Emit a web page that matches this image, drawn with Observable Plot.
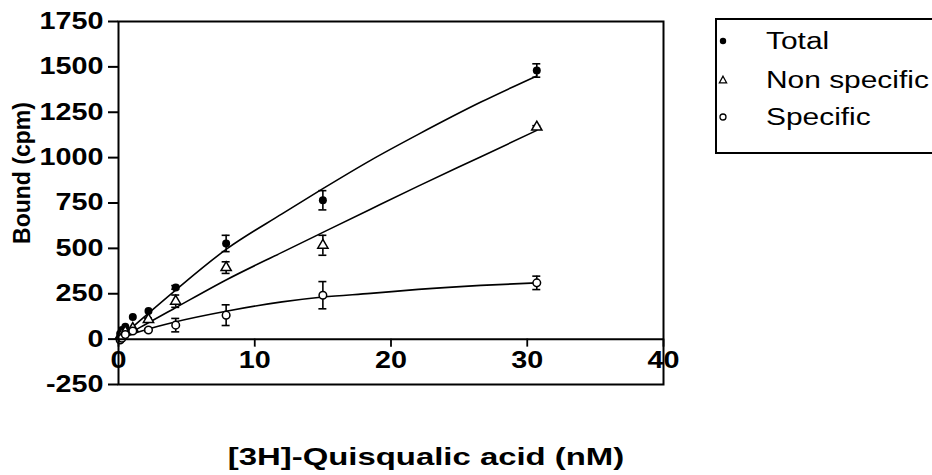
<!DOCTYPE html>
<html>
<head>
<meta charset="utf-8">
<script src="https://cdn.jsdelivr.net/npm/d3@7"></script>
<script src="https://cdn.jsdelivr.net/npm/@observablehq/plot@0.6"></script>
<style>
  html, body { margin: 0; padding: 0; background: #fff; }
  body { width: 932px; height: 475px; overflow: hidden; position: relative; font-family: "Liberation Sans", Arial, sans-serif; }
  #chart { position: absolute; left: 0; top: 0; }
  #legend { position: absolute; left: 715px; top: 18px; width: 240px; height: 136px; border: 2px solid #000; box-sizing: border-box; background: #fff; }
  .row { position: absolute; left: 0; height: 30px; line-height: 30px; white-space: nowrap; }
  .row svg { position: absolute; left: 0; top: 9px; }
  .row span { position: absolute; left: 49px; top: 0; font-size: 23px; transform: scaleX(1.3); transform-origin: left center; color: #000; }
</style>
</head>
<body>
<div id="chart"></div>
<div id="legend">
  <div class="row" style="top:6px"><svg width="12" height="12"><circle cx="6" cy="6" r="3.2" fill="#000"/></svg><span>Total</span></div>
  <div class="row" style="top:45px"><svg width="12" height="12"><path d="M6,2.2 L9.6,8.8 L2.4,8.8 Z" fill="#fff" stroke="#000" stroke-width="1.3"/></svg><span>Non specific</span></div>
  <div class="row" style="top:82px"><svg width="12" height="12"><circle cx="6" cy="6" r="3" fill="#fff" stroke="#000" stroke-width="1.3"/></svg><span>Specific</span></div>
</div>
<script>
// ---- data ----
const conc = [0.12, 0.25, 0.5, 1.05, 2.2, 4.2, 7.9, 15.0, 30.7];
const total = [30, 50, 68, 122, 155, 285, 527, 765, 1480];
const totalErr = [0, 0, 0, 0, 0, 10, 45, 53, 37];
const nonSpecific = [15, 25, 40, 59, 108, 209, 394, 517, 1168];
const nonSpecificErr = [0, 0, 0, 0, 8, 34, 32, 55, 8];
const specific = [-5, 5, 25, 45, 50, 77, 132, 242, 310];
const specificErr = [0, 0, 0, 0, 8, 37, 57, 75, 37];

// fitted curves
const fitX = [0, 1, 2, 4, 8, 12, 15, 18.5, 22, 26.6, 30.7];
const totalFit = [0, 65, 130, 258, 500, 690, 829, 985, 1128, 1306, 1450];
const nonSpecificFit = [0, 40, 82, 165, 330, 478, 588, 716, 843, 1005, 1150];
const specificFit = [0, 28, 52, 92, 155, 205, 232, 252, 274, 296, 310];

const xTicks = [0, 10, 20, 30, 40];
const yTicks = [-250, 0, 250, 500, 750, 1000, 1250, 1500, 1750];
const xLabel = "[3H]-Quisqualic acid (nM)";
const yLabel = "Bound (cpm)";

// ---- tables ----
const mk = (name, ys, errs) => conc.map((x, i) => ({series: name, x, y: ys[i], err: errs[i]}));
const pts = [...mk("Total", total, totalErr), ...mk("Non specific", nonSpecific, nonSpecificErr), ...mk("Specific", specific, specificErr)];
const errPts = pts.filter(d => d.err > 0);
const fits = [
  ...fitX.map((x, i) => ({series: "Total", x, y: totalFit[i]})),
  ...fitX.map((x, i) => ({series: "Non specific", x, y: nonSpecificFit[i]})),
  ...fitX.map((x, i) => ({series: "Specific", x, y: specificFit[i]}))
];

const svg = Plot.plot({
  width: 932,
  height: 475,
  marginLeft: 118,
  marginRight: 269,
  marginTop: 21,
  marginBottom: 91,
  x: {domain: [0, 40]},
  y: {domain: [-250, 1750]},
  style: {fontFamily: "'Liberation Sans', Arial, sans-serif", fontSize: "23px", fontWeight: "bold", color: "#000", background: "transparent"},
  marks: [
    Plot.line(fits, {x: "x", y: "y", z: "series", curve: "monotone-x", stroke: "#000", strokeWidth: 1.6}),
    Plot.ruleX(errPts, {x: "x", y1: d => d.y - d.err, y2: d => d.y + d.err, stroke: "#000", strokeWidth: 1.6}),
    Plot.ruleY(errPts, {y: d => d.y + d.err, x1: "x", x2: "x", insetLeft: -4, insetRight: -4, stroke: "#000", strokeWidth: 1.6}),
    Plot.ruleY(errPts, {y: d => d.y - d.err, x1: "x", x2: "x", insetLeft: -4, insetRight: -4, stroke: "#000", strokeWidth: 1.6}),
    Plot.dot(pts.filter(d => d.series === "Total"), {x: "x", y: "y", r: 4, fill: "#000", symbol: "circle"}),
    Plot.dot(pts.filter(d => d.series === "Non specific"), {x: "x", y: "y", r: 3.8, fill: "#fff", stroke: "#000", strokeWidth: 1.5, symbol: "triangle"}),
    Plot.dot(pts.filter(d => d.series === "Specific"), {x: "x", y: "y", r: 3.8, fill: "#fff", stroke: "#000", strokeWidth: 1.5, symbol: "circle"}),
    Plot.frame({stroke: "#000", strokeWidth: 2}),
    Plot.ruleY([0], {stroke: "#000", strokeWidth: 2}),
    Plot.ruleX(xTicks, {x: d => d, y1: 0, y2: 0, insetBottom: -8, stroke: "#000", strokeWidth: 1.8}),
    Plot.axisY(yTicks, {tickSize: 10, tickPadding: 5, strokeWidth: 2, label: null, tickFormat: d => String(d)}),
    Plot.axisX(xTicks, {anchor: "bottom", tickSize: 0, tickPadding: 0, dy: -33, label: null, tickFormat: d => String(d)}),
    Plot.text([yLabel], {frameAnchor: "left", textAnchor: "middle", rotate: -90, dx: -96, dy: -30, fontSize: 23, fontWeight: "bold"}),
    Plot.text([xLabel], {frameAnchor: "bottom", lineAnchor: "middle", dx: 35, dy: 73, fontSize: 24, fontWeight: "bold"})
  ]
});
document.getElementById("chart").append(svg);

// widen horizontal text to match the reference's wide lettering
svg.querySelectorAll("text").forEach(t => {
  const tr = (t.getAttribute("transform") || "") + " " + ((t.parentNode && t.parentNode.getAttribute && t.parentNode.getAttribute("transform")) || "");
  if (/rotate\(-90\)/.test(tr)) return;
  const w = t.getComputedTextLength();
  const f = t.textContent === xLabel ? 1.37 : 1.25;
  t.setAttribute("textLength", (w * f).toFixed(1));
  t.setAttribute("lengthAdjust", "spacingAndGlyphs");
});
</script>
</body>
</html>
